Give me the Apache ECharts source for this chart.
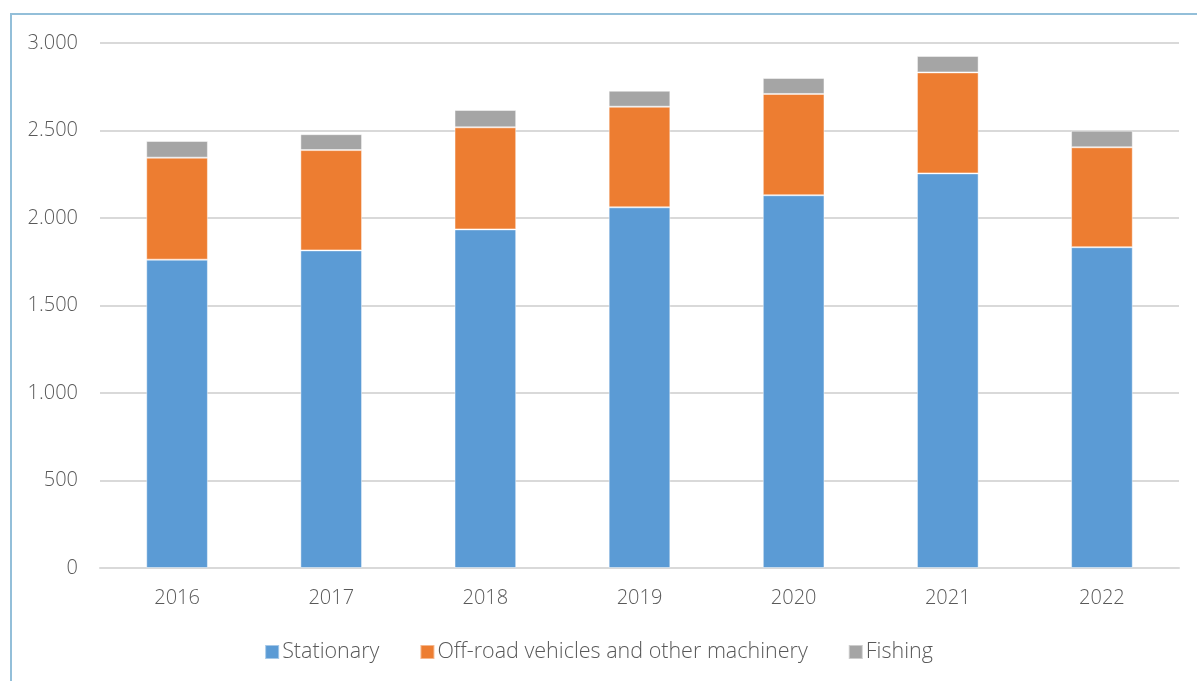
<!DOCTYPE html>
<html>
<head>
<meta charset="utf-8">
<script src="https://cdn.jsdelivr.net/npm/echarts@6/dist/echarts.min.js"></script>
<style>
  html, body { margin: 0; padding: 0; background: #ffffff; }
  #wrap { position: relative; width: 1197px; height: 681px; overflow: hidden; }
  #chart { position: absolute; left: 0; top: 0; width: 1197px; height: 681px; }
  #frame {
    position: absolute; left: 10px; top: 13px; width: 1300px; height: 800px;
    border-left: 2px solid #93bfd9; border-top: 2px solid #93bfd9;
    pointer-events: none;
  }
</style>
</head>
<body>
<div id="wrap">
  <div id="chart"></div>
  <div id="frame"></div>
</div>
<script>
const years = ['2016', '2017', '2018', '2019', '2020', '2021', '2022']
const stationary = [1762, 1815, 1935, 2061, 2130, 2255, 1833]
const offRoad = [583, 573, 583, 575, 579, 577, 571]
const fishing = [95, 91, 99, 91, 91, 94, 95]

const textColor = '#595959'
const fontFamily = '"Open Sans", "Noto Sans", sans-serif'

const chart = echarts.init(document.getElementById('chart'))

const barStyle = (color) => ({
  color: color,
  borderColor: 'rgba(255,255,255,0.45)',
  borderWidth: 1
})

const option = {
  backgroundColor: '#ffffff',
  animation: false,
  textStyle: { fontFamily: fontFamily },
  grid: {
    left: 100,
    right: 18,
    top: 43,
    bottom: 113
  },
  legend: {
    bottom: 13,
    left: 'center',
    itemWidth: 14,
    itemHeight: 14,
    itemGap: 40,
    icon: 'rect',
    textStyle: { color: textColor, fontSize: 21.5, fontWeight: 300, fontFamily: fontFamily, padding: [0, 0, 0, -2] },
    data: ['Stationary', 'Off-road vehicles and other machinery', 'Fishing']
  },
  xAxis: {
    type: 'category',
    data: years,
    axisLine: { show: true, lineStyle: { color: '#d9d9d9', width: 2 } },
    axisTick: { show: false },
    axisLabel: { color: textColor, fontSize: 20, fontWeight: 300, margin: 20, fontFamily: fontFamily }
  },
  yAxis: {
    type: 'value',
    min: 0,
    max: 3000,
    interval: 500,
    axisLine: { show: false },
    axisTick: { show: false },
    splitLine: { show: true, lineStyle: { color: '#d9d9d9', width: 2 } },
    axisLabel: {
      color: textColor,
      fontSize: 20,
      fontWeight: 300,
      margin: 22,
      fontFamily: fontFamily,
      formatter: (v) => String(v).replace(/\B(?=(\d{3})+(?!\d))/g, '.')
    }
  },
  series: [
    {
      name: 'Stationary',
      type: 'bar',
      stack: 'total',
      barCategoryGap: '60%',
      itemStyle: barStyle('#5B9BD5'),
      data: stationary
    },
    {
      name: 'Off-road vehicles and other machinery',
      type: 'bar',
      stack: 'total',
      itemStyle: barStyle('#ED7D31'),
      data: offRoad
    },
    {
      name: 'Fishing',
      type: 'bar',
      stack: 'total',
      itemStyle: barStyle('#A5A5A5'),
      data: fishing
    }
  ]
}

chart.setOption(option)
</script>
</body>
</html>
